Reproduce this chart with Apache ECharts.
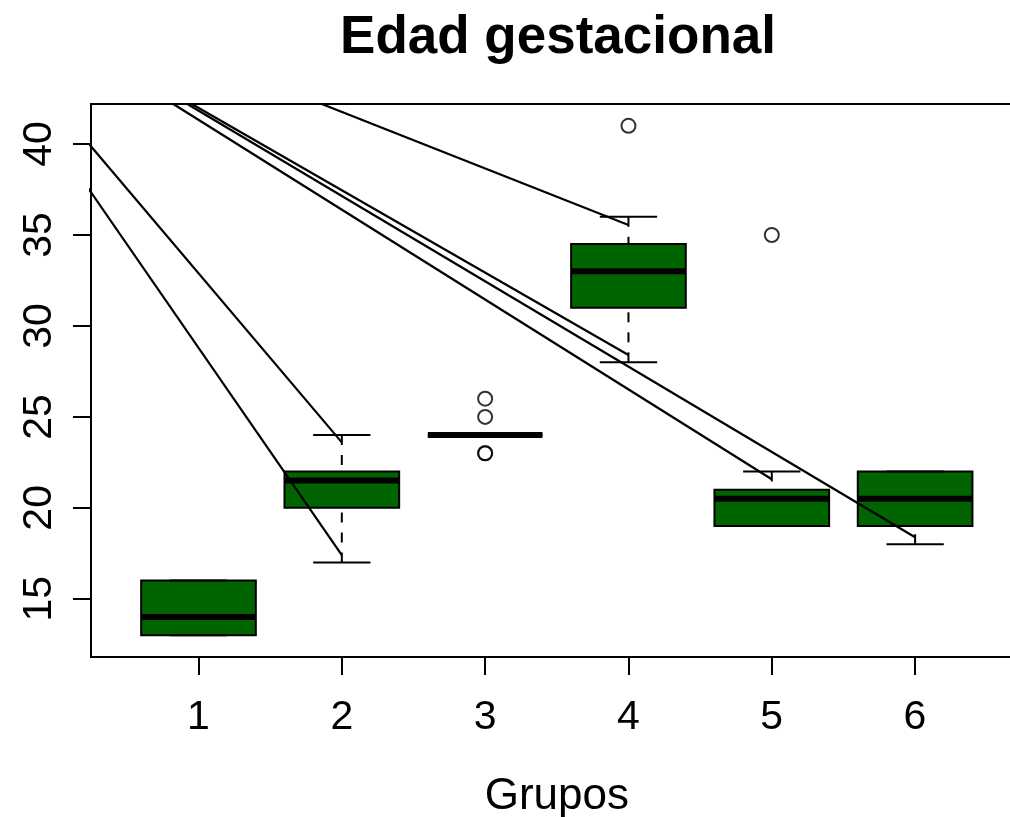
<!DOCTYPE html>
<html>
<head>
<meta charset="utf-8">
<script src="https://cdn.jsdelivr.net/npm/echarts@6/dist/echarts.min.js"></script>
<style>
  html, body { margin: 0; padding: 0; background: #ffffff; }
  #chart { width: 1010px; height: 817px; }
</style>
</head>
<body>
<div id="chart"></div>
<script>
// Gestational age per group: five-number summaries
const groupPos    = [1, 2, 3, 4, 5, 6];
const groupLabels = ['1', '2', '3', '4', '5', '6'];
const whiskerLow  = [13, 17, 24, 28, 19, 18];
const quartile1   = [13, 20, 24, 31, 19, 19];
const medians     = [14, 21.5, 24, 33, 20.5, 20.5];
const quartile3   = [16, 22, 24, 34.5, 21, 22];
const whiskerHigh = [16, 24, 24, 36, 22, 22];

// Points outside the whiskers
const outlierGroup = [3, 3, 3, 3, 4, 5];
const outlierValue = [26, 25, 23, 23, 41, 35];

// Pointer segments drawn over the boxes (start -> end, data units)
const segStartX = [0, 0, 0.824, 0.922, 0.953, 1.86];
const segStartY = [40.2, 42.2, 42.2, 42.2, 42.2, 42.2];
const segEndX   = [2, 2, 5, 6, 4, 4];
const segEndY   = [17.4, 23.6, 21.57, 18.38, 28.4, 35.55];

// Axis ranges
const xRange = [0.25, 6.75];
const yRange = [11.8, 42.2];
const yTickRange = [15, 40];
const yTickStep = 5;

const FONT = "'Liberation Sans', Arial, Helvetica, sans-serif";
const BOX_FILL = '#006400';

const boxData = groupPos.map((g, i) =>
  [g, whiskerLow[i], quartile1[i], medians[i], quartile3[i], whiskerHigh[i]]);
const outlierData = outlierGroup.map((g, i) => [g, outlierValue[i]]);

function renderBox(params, api) {
  const x = api.value(0);
  const lo = api.coord([x, api.value(1)]);
  const q1 = api.coord([x, api.value(2)]);
  const md = api.coord([x, api.value(3)]);
  const q3 = api.coord([x, api.value(4)]);
  const hi = api.coord([x, api.value(5)]);
  const half = api.size([0.8, 0])[0] / 2;
  const cap = half / 2;
  const cx = lo[0];
  const stroke = { stroke: '#000', lineWidth: 2 };
  return {
    type: 'group',
    children: [
      { type: 'rect',
        shape: { x: cx - half, y: q3[1], width: half * 2, height: q1[1] - q3[1] },
        style: { fill: BOX_FILL, stroke: '#000', lineWidth: 2 } },
      { type: 'line',
        shape: { x1: cx - half, y1: md[1], x2: cx + half, y2: md[1] },
        style: { stroke: '#000', lineWidth: 6, lineCap: 'butt' } },
      { type: 'line',
        shape: { x1: cx, y1: lo[1], x2: cx, y2: q1[1] },
        style: Object.assign({ lineDash: [10, 10] }, stroke) },
      { type: 'line',
        shape: { x1: cx, y1: hi[1], x2: cx, y2: q3[1] },
        style: Object.assign({ lineDash: [10, 10] }, stroke) },
      { type: 'line',
        shape: { x1: cx - cap, y1: lo[1], x2: cx + cap, y2: lo[1] },
        style: stroke },
      { type: 'line',
        shape: { x1: cx - cap, y1: hi[1], x2: cx + cap, y2: hi[1] },
        style: stroke }
    ]
  };
}

const segmentSeries = segStartX.map((sx, i) => ({
  type: 'line',
  xAxisIndex: 0,
  yAxisIndex: 0,
  data: [[sx, segStartY[i]], [segEndX[i], segEndY[i]]],
  symbol: 'none',
  clip: true,
  silent: true,
  z: 5,
  lineStyle: { color: '#000', width: 2.2 }
}));

const hiddenAxis = {
  axisLine: { show: false }, axisTick: { show: false },
  axisLabel: { show: false }, splitLine: { show: false }
};

const chart = echarts.init(document.getElementById('chart'), null, { renderer: 'canvas' });

chart.setOption({
  backgroundColor: '#ffffff',
  animation: false,
  graphic: [{
    type: 'text',
    x: 558,
    y: 12,
    style: {
      text: 'Edad gestacional',
      font: 'bold 53px ' + FONT,
      fill: '#000',
      textAlign: 'center',
      textVerticalAlign: 'top'
    }
  }],
  grid: [
    // plotting frame (extends past the right edge of the canvas)
    { left: 91, right: -12.6, top: 104, bottom: 160, show: true, outerBoundsMode: 'none',
      borderColor: '#000', borderWidth: 2, backgroundColor: 'transparent' },
    // value ticks on the left
    { left: 91, right: -12.6, top: 144, bottom: 218.2, outerBoundsMode: 'none' },
    // group ticks at the bottom
    { left: 198.5, right: 95, top: 104, bottom: 160, outerBoundsMode: 'none' }
  ],
  xAxis: [
    Object.assign({ type: 'value', gridIndex: 0, min: xRange[0], max: xRange[1],
      name: 'Grupos', nameLocation: 'middle', nameGap: 118,
      nameTextStyle: { fontFamily: FONT, fontSize: 44, color: '#000' } }, hiddenAxis),
    Object.assign({ type: 'value', gridIndex: 1, min: xRange[0], max: xRange[1] }, hiddenAxis),
    { type: 'value', gridIndex: 2, min: groupPos[0], max: groupPos[groupPos.length - 1],
      interval: 1, position: 'bottom',
      axisLine: { show: false },
      axisTick: { show: true, length: 18, lineStyle: { color: '#000', width: 2 } },
      axisLabel: { show: true, margin: 40, fontFamily: FONT, fontSize: 41, color: '#000',
        formatter: v => groupLabels[groupPos.indexOf(v)] ?? '' },
      splitLine: { show: false } }
  ],
  yAxis: [
    Object.assign({ type: 'value', gridIndex: 0, min: yRange[0], max: yRange[1] }, hiddenAxis),
    { type: 'value', gridIndex: 1, min: yTickRange[0], max: yTickRange[1], interval: yTickStep,
      position: 'left',
      axisLine: { show: false },
      axisTick: { show: true, length: 18, lineStyle: { color: '#000', width: 2 } },
      axisLabel: { show: true, rotate: 90, margin: 31, fontFamily: FONT, fontSize: 41, color: '#000' },
      splitLine: { show: false } },
    Object.assign({ type: 'value', gridIndex: 2, min: yRange[0], max: yRange[1] }, hiddenAxis)
  ],
  series: [
    {
      type: 'custom',
      xAxisIndex: 0,
      yAxisIndex: 0,
      renderItem: renderBox,
      data: boxData,
      silent: true,
      z: 2
    },
    {
      type: 'scatter',
      xAxisIndex: 0,
      yAxisIndex: 0,
      data: outlierData,
      symbol: 'circle',
      symbolSize: 14,
      silent: true,
      z: 3,
      itemStyle: { color: 'rgba(0,0,0,0)', borderColor: '#000', borderWidth: 2 }
    }
  ].concat(segmentSeries)
});
</script>
</body>
</html>
